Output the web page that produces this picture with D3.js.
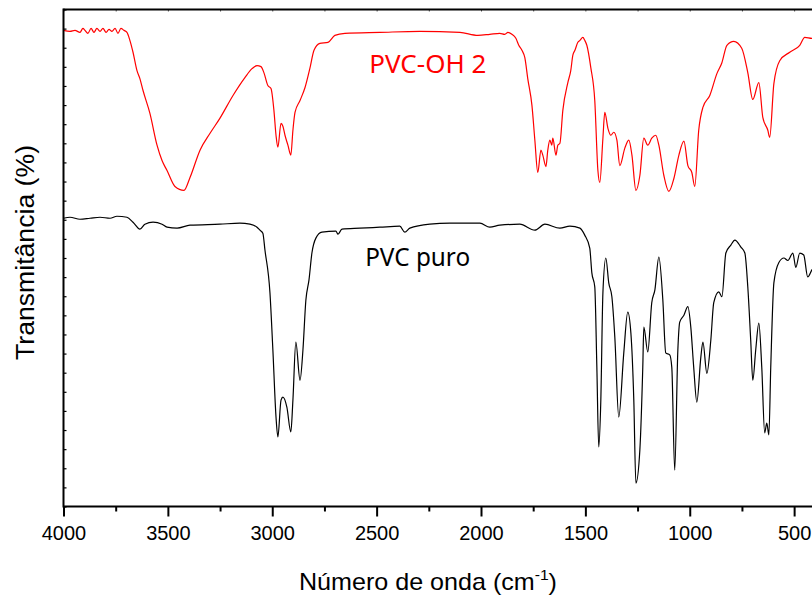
<!DOCTYPE html>
<html>
<head>
<meta charset="utf-8">
<script src="https://cdn.jsdelivr.net/npm/d3@7"></script>
<style>
  html, body { margin: 0; padding: 0; background: #fff; overflow: hidden; }
  svg { display: block; }
  .tick-label { font-family: "Liberation Sans", Arial, sans-serif; font-size: 20px; fill: #000; }
  .axis-title { font-family: "Liberation Sans", Arial, sans-serif; fill: #000; }
  .series-label { font-family: "Comic Sans MS", "Noto Sans", sans-serif; font-size: 26px; }
</style>
</head>
<body>
<svg id="chart"></svg>
<script>
// wavenumber (cm-1), transmittance (arbitrary %)
const pvcOH = [
  [4000,95.8],[3969,95.6],[3945,95.8],[3921,95.4],[3907,96.2],[3897,95.8],[3883,95.2],[3868,96.2],
  [3854,95.4],[3840,96.2],[3825,95.6],[3811,96.2],[3796,95.4],[3782,96.0],[3768,95.6],[3753,96.2],
  [3739,95.2],[3725,96.2],[3710,95.8],[3696,95.4],[3682,93.8],[3667,91.4],[3648,87.7],[3634,86.1],
  [3619,83.7],[3586,79.1],[3552,72.7],[3528,69.6],[3504,67.6],[3466,64.4],[3423,63.6],[3394,66.2],
  [3346,71.7],[3298,75.1],[3251,78.1],[3188,82.7],[3131,86.3],[3097,88.1],[3073,88.7],[3054,88.5],
  [3040,87.3],[3021,84.7],[3006,84.1],[2992,79.7],[2982,74.7],[2973,72.3],[2958,77.1],[2949,76.5],
  [2939,74.7],[2925,72.7],[2911,70.7],[2901,75.7],[2891,79.3],[2867,81.7],[2843,84.3],[2820,88.1],
  [2800,91.8],[2772,93.2],[2733,93.4],[2700,94.8],[2652,95.2],[2484,95.4],[2293,95.6],[2101,95.4],
  [2015,94.8],[1958,95.0],[1910,95.2],[1886,95.0],[1871,95.4],[1852,95.0],[1833,94.2],[1819,92.8],
  [1804,91.8],[1790,90.3],[1776,86.1],[1756,80.7],[1742,73.7],[1728,67.2],[1713,71.7],[1704,70.7],
  [1689,68.4],[1680,71.7],[1670,73.7],[1661,72.7],[1656,74.1],[1641,70.7],[1632,72.7],[1622,73.1],
  [1608,79.7],[1584,85.3],[1570,87.7],[1560,90.8],[1550,91.8],[1536,93.4],[1526,93.8],[1512,94.4],
  [1503,93.8],[1493,92.8],[1474,88.3],[1455,81.7],[1440,67.6],[1431,65.2],[1416,74.1],[1407,79.3],
  [1392,76.1],[1378,74.7],[1364,75.3],[1349,73.7],[1335,68.6],[1311,72.1],[1292,73.7],[1277,70.7],
  [1258,63.6],[1239,66.6],[1220,74.1],[1201,72.7],[1182,74.1],[1163,74.7],[1148,72.7],[1124,66.6],
  [1100,63.4],[1076,66.0],[1052,70.7],[1028,73.5],[1009,68.6],[990,67.2],[976,64.4],[957,75.7],
  [937,80.3],[904,82.7],[870,87.1],[846,89.3],[822,92.8],[789,93.6],[751,92.2],[722,87.3],
  [698,81.9],[669,85.3],[650,78.3],[626,75.7],[617,74.3],[597,85.1],[569,89.7],[521,91.4],
  [473,92.8],[449,94.4],[415,94.2],[400,94.6]
];

const pvcPuro = [
  [4000,58.0],[3969,58.2],[3921,57.8],[3873,58.0],[3825,58.2],[3777,58.0],[3744,58.4],[3696,58.2],
  [3667,57.2],[3634,55.8],[3610,56.8],[3571,57.2],[3528,56.8],[3504,56.2],[3456,56.0],[3394,56.6],
  [3251,56.8],[3155,57.0],[3107,56.8],[3073,56.2],[3059,55.6],[3045,55.0],[3035,51.6],[3011,43.0],
  [2997,31.5],[2982,18.0],[2973,14.0],[2958,21.4],[2949,22.0],[2930,20.0],[2911,15.0],[2901,21.4],
  [2887,33.1],[2867,25.4],[2853,31.5],[2839,41.5],[2824,45.6],[2810,51.0],[2791,54.0],[2762,55.2],
  [2695,55.4],[2685,54.8],[2666,55.8],[2580,56.0],[2484,56.2],[2389,56.4],[2365,55.2],[2341,56.0],
  [2245,56.8],[2149,57.0],[2005,57.0],[1958,56.2],[1910,56.6],[1814,56.8],[1742,55.6],[1694,56.8],
  [1622,56.0],[1574,56.4],[1526,56.0],[1503,54.6],[1479,52.0],[1469,47.0],[1455,44.2],[1445,28.0],
  [1436,12.0],[1426,21.4],[1416,43.0],[1402,50.0],[1388,45.0],[1373,42.2],[1359,34.1],[1340,18.0],
  [1316,30.9],[1297,39.1],[1282,34.9],[1268,21.4],[1258,4.7],[1239,11.4],[1225,28.0],[1220,36.1],
  [1201,31.1],[1182,41.0],[1167,43.6],[1148,50.2],[1129,41.6],[1115,30.9],[1096,30.5],[1086,28.0],
  [1072,7.3],[1057,31.5],[1048,37.1],[1028,38.5],[1009,40.2],[995,36.1],[981,28.0],[966,21.0],
  [947,30.0],[937,33.1],[918,26.8],[899,33.5],[885,41.0],[861,43.2],[846,42.2],[827,51.0],
  [803,52.6],[784,53.6],[755,52.2],[736,51.0],[722,44.2],[708,33.5],[698,25.4],[684,31.5],
  [669,36.9],[655,28.0],[641,14.8],[631,16.8],[621,14.4],[612,28.0],[597,45.0],[573,49.1],
  [549,50.0],[530,49.5],[506,51.0],[492,48.1],[473,51.0],[454,50.6],[435,46.2],[415,47.6],[400,48.5]
];

const seriesNames = ["PVC-OH 2", "PVC puro"];
const seriesColors = ["#ff0000", "#000000"];
const xMajorTicks = [4000, 3500, 3000, 2500, 2000, 1500, 1000, 500];
const xMinorTicks = [3750, 3250, 2750, 2250, 1750, 1250, 750];
const yTickCount = 26;

const width = 812, height = 601;
const margin = {top: 9.5, left: 63.5, bottom: 506.5, right: 815};

const svg = d3.select('#chart').attr('width', width).attr('height', height);

const x = d3.scaleLinear().domain([4000, 400]).range([margin.left, margin.right]);
const y = d3.scaleLinear().domain([0, 100]).range([margin.bottom, margin.top]);

// spectra
const line = d3.line()
  .x(d => x(d[0]))
  .y(d => y(d[1]))
  .curve(d3.curveMonotoneX);

[pvcOH, pvcPuro].forEach((s, i) => {
  svg.append('path')
    .datum(s)
    .attr('fill', 'none')
    .attr('stroke', seriesColors[i])
    .attr('stroke-width', 1.2)
    .attr('stroke-linejoin', 'round')
    .attr('d', line);
});

// bottom axis: major + minor ticks, outward
const bottom = svg.append('g').attr('transform', `translate(0,${margin.bottom})`);
bottom.append('g')
  .call(d3.axisBottom(x).tickValues(xMajorTicks).tickSize(10).tickSizeOuter(0).tickFormat(d3.format('d')))
  .call(g => g.select('.domain').remove())
  .call(g => g.selectAll('.tick line').attr('stroke', '#000').attr('stroke-width', 2))
  .call(g => g.selectAll('.tick text').attr('class', 'tick-label').attr('dy', null).attr('y', 33));
bottom.append('g')
  .call(d3.axisBottom(x).tickValues(xMinorTicks).tickSize(5).tickFormat(''))
  .call(g => g.select('.domain').remove())
  .call(g => g.selectAll('.tick line').attr('stroke', '#000').attr('stroke-width', 2));

// top axis: tiny inward ticks
svg.append('g').attr('transform', `translate(0,${margin.top})`)
  .call(d3.axisBottom(x).tickValues(xMajorTicks.concat(xMinorTicks)).tickSize(2).tickFormat(''))
  .call(g => g.select('.domain').remove())
  .call(g => g.selectAll('.tick line').attr('stroke', '#555').attr('stroke-width', 1));

// left axis: inward ticks, no labels
svg.append('g').attr('transform', `translate(${margin.left},0)`)
  .call(d3.axisRight(y).tickValues(d3.range(yTickCount + 1).map(i => i * 100 / yTickCount)).tickSize(3).tickFormat(''))
  .call(g => g.select('.domain').remove())
  .call(g => g.selectAll('.tick line').attr('stroke', '#000').attr('stroke-width', 1.2));

// frame lines
const frame = svg.append('g').attr('stroke', '#000').attr('stroke-width', 2).attr('fill', 'none');
frame.append('line').attr('x1', margin.left).attr('x2', width + 5).attr('y1', margin.bottom).attr('y2', margin.bottom);
frame.append('line').attr('x1', margin.left).attr('x2', width + 5).attr('y1', margin.top).attr('y2', margin.top);
frame.append('line').attr('x1', margin.left).attr('x2', margin.left).attr('y1', margin.top - 1).attr('y2', margin.bottom + 1);

// axis titles
const xt = svg.append('text').attr('class', 'axis-title')
  .attr('x', 299).attr('y', 590)
  .style('font-size', '24px');
xt.append('tspan').text('Número de onda (cm');
xt.append('tspan').attr('dy', -10).style('font-size', '15px').text('-1');
xt.append('tspan').attr('dy', 10).text(')');
xt.attr('textLength', 258).attr('lengthAdjust', 'spacingAndGlyphs');

svg.append('text').attr('class', 'axis-title')
  .attr('transform', 'translate(34,360) rotate(-90)')
  .style('font-size', '26px')
  .attr('textLength', 215).attr('lengthAdjust', 'spacingAndGlyphs')
  .text('Transmitância (%)');

// series labels
svg.append('text').attr('class', 'series-label')
  .attr('x', x(2535)).attr('y', 73)
  .attr('fill', seriesColors[0])
  .attr('textLength', 117).attr('lengthAdjust', 'spacingAndGlyphs')
  .text(seriesNames[0]);
svg.append('text').attr('class', 'series-label')
  .attr('x', x(2555)).attr('y', 266)
  .attr('fill', seriesColors[1])
  .attr('textLength', 105).attr('lengthAdjust', 'spacingAndGlyphs')
  .text(seriesNames[1]);
</script>
</body>
</html>
